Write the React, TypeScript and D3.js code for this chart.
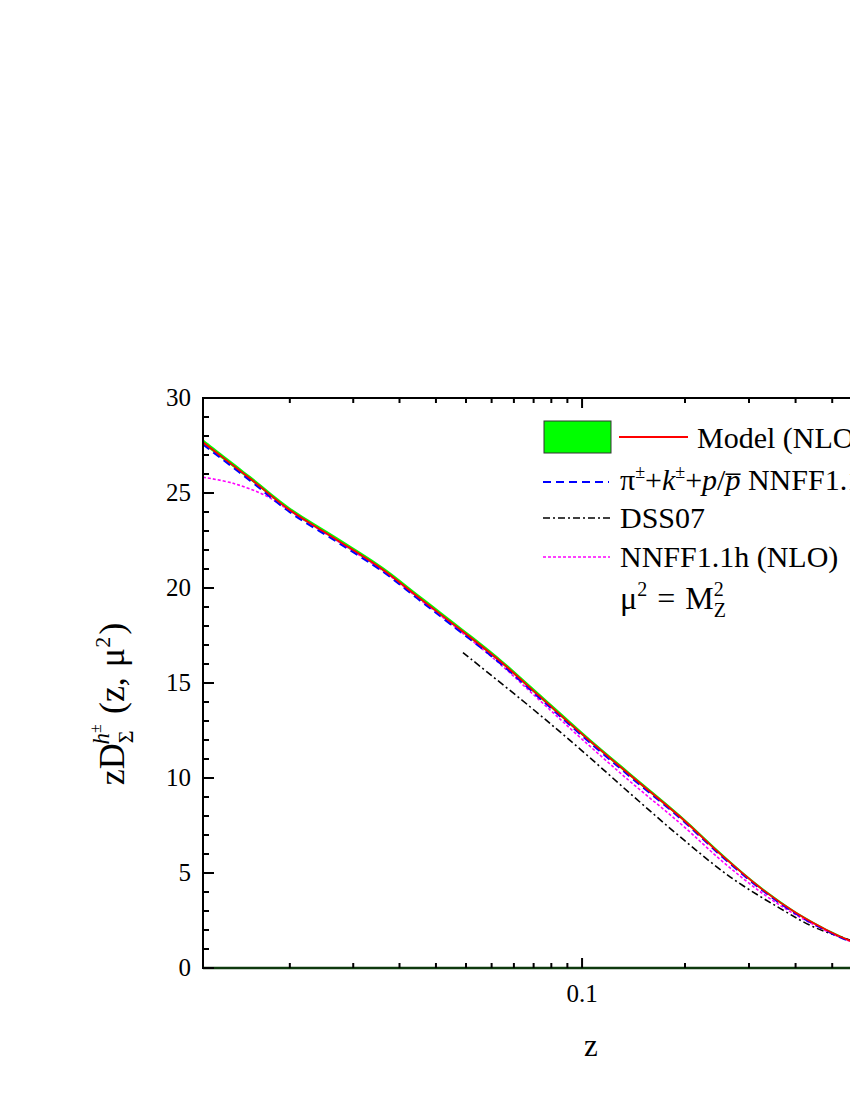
import React from "react";
import * as d3 from "d3";

const Z_SHIFT = 0.0225;
const X_DOMAIN = [-0.0089, 1.0];
const Y_DOMAIN = [0, 30];

const zModel = [-0.0089, -0.0046, 0.0, 0.0071, 0.0162, 0.0245, 0.0345, 0.0522, 0.0735, 0.0994, 0.1393, 0.1937, 0.2554, 0.3278, 0.4026, 0.4932, 0.556, 0.65];
const modelNLO = [27.67, 25.75, 24.1, 22.53, 20.95, 19.58, 18.23, 16.3, 14.28, 12.35, 10.16, 7.96, 5.86, 4.1, 2.88, 1.91, 1.44, 0.95];
const bandUpper = [27.83, 25.89, 24.24, 22.67, 21.09, 19.72, 18.37, 16.44, 14.42, 12.48, 10.28, 8.07, 5.96, 4.18, 2.95, 1.97, 1.49, 0.99];
const bandLower = [27.57, 25.67, 24.02, 22.45, 20.87, 19.5, 18.15, 16.22, 14.2, 12.27, 10.08, 7.89, 5.8, 4.04, 2.83, 1.86, 1.4, 0.92];
const nnffSum = [27.55, 25.64, 23.99, 22.42, 20.84, 19.47, 18.11, 16.19, 14.19, 12.26, 10.07, 7.89, 5.8, 4.05, 2.83, 1.87, 1.4, 0.92];

const zNnffH = [-0.0089, -0.0063, -0.0028, 0.0, 0.0071, 0.0162, 0.0245, 0.0345, 0.0522, 0.0735, 0.0994, 0.1393, 0.1937, 0.2554, 0.3278, 0.4026, 0.4932, 0.556, 0.65];
const nnffH = [25.83, 25.51, 24.83, 24.06, 22.48, 20.89, 19.52, 18.15, 16.15, 14.07, 12.08, 9.82, 7.62, 5.57, 3.9, 2.77, 1.86, 1.41, 0.93];

const zDss = [0.0389, 0.0681, 0.0994, 0.1393, 0.1937, 0.2664, 0.3635, 0.4456, 0.556, 0.65];
const dss07 = [16.6, 13.75, 11.47, 9.19, 6.91, 4.8, 3.14, 2.17, 1.47, 1.0];

const yMajorTicks = [0, 5, 10, 15, 20, 25, 30];
const yMinorTicks = [1, 2, 3, 4, 6, 7, 8, 9, 11, 12, 13, 14, 16, 17, 18, 19, 21, 22, 23, 24, 26, 27, 28, 29];
const xMajorTicks = [0.1, 1];
const xTickLabels = ["0.1", "1"];
const xMinorTicks = [0, 0.01, 0.02, 0.03, 0.04, 0.05, 0.06, 0.07, 0.08, 0.09, 0.2, 0.3, 0.4, 0.5, 0.6, 0.7, 0.8, 0.9];

const FONT = "'Liberation Serif', 'Times New Roman', serif";

const App = () => {
  const left = 203;
  const right = 948;
  const top = 398;
  const bottom = 968;

  const xLog = d3.scaleLog().domain([X_DOMAIN[0] + Z_SHIFT, X_DOMAIN[1] + Z_SHIFT]).range([left, right]);
  const x = (z: number) => xLog(z + Z_SHIFT);
  const y = d3.scaleLinear().domain(Y_DOMAIN).range([bottom, top]);

  const curve = d3.curveCatmullRom.alpha(0.5);
  const line = d3.line<[number, number]>().x((d) => x(d[0])).y((d) => y(d[1])).curve(curve);
  const area = d3
    .area<number>()
    .x((_, i) => x(zModel[i]))
    .y0((_, i) => y(bandLower[i]))
    .y1((_, i) => y(bandUpper[i]))
    .curve(curve);

  const pairs = (zs: number[], vs: number[]) => zs.map((z, i) => [z, vs[i]] as [number, number]);

  return (
    <svg width={850} height={1100} style={{ position: "absolute", left: 0, top: 0 }} fontFamily={FONT}>
      <defs>
        <clipPath id="plot">
          <rect x={left} y={top} width={right - left} height={bottom - top} />
        </clipPath>
      </defs>

      {/* curves */}
      <g clipPath="url(#plot)">
        <path d={area(zModel) || ""} fill="#00ff00" />
        <path d={line(pairs(zDss, dss07)) || ""} fill="none" stroke="#000" strokeWidth={1.6} strokeDasharray="7,3,2,3" />
        <path d={line(pairs(zNnffH, nnffH)) || ""} fill="none" stroke="#ff00ff" strokeWidth={1.6} strokeDasharray="3,2" />
        <path d={line(pairs(zModel, nnffSum)) || ""} fill="none" stroke="#0000ff" strokeWidth={2} strokeDasharray="8,5" />
        <path d={line(pairs(zModel, modelNLO)) || ""} fill="none" stroke="#ff0000" strokeWidth={1.8} />
      </g>

      {/* frame */}
      <line x1={left} x2={right} y1={top} y2={top} stroke="#000" strokeWidth={2} />
      <line x1={left} x2={left} y1={top - 1} y2={bottom + 1} stroke="#000" strokeWidth={2} />
      <line x1={left} x2={right} y1={bottom} y2={bottom} stroke="#0e3a0e" strokeWidth={2.5} />

      {/* y ticks */}
      {yMajorTicks.map((v) => (
        <g key={"ym" + v}>
          <line x1={left} x2={left + 11} y1={y(v)} y2={y(v)} stroke="#000" strokeWidth={2} />
          <text x={191} y={y(v)} dy="0.33em" textAnchor="end" fontSize={25} fontFamily={FONT}>
            {v}
          </text>
        </g>
      ))}
      {yMinorTicks.map((v) => (
        <line key={"yn" + v} x1={left} x2={left + 6} y1={y(v)} y2={y(v)} stroke="#000" strokeWidth={2} />
      ))}

      {/* x ticks top and bottom */}
      {xMinorTicks.map((v) => (
        <g key={"xn" + v}>
          <line x1={x(v)} x2={x(v)} y1={top} y2={top + 5} stroke="#000" strokeWidth={2} />
          <line x1={x(v)} x2={x(v)} y1={bottom} y2={bottom - 5} stroke="#000" strokeWidth={2} />
        </g>
      ))}
      {xMajorTicks.map((v, i) => (
        <g key={"xm" + v}>
          <line x1={x(v)} x2={x(v)} y1={top} y2={top + 10} stroke="#000" strokeWidth={2} />
          <line x1={x(v)} x2={x(v)} y1={bottom} y2={bottom - 10} stroke="#000" strokeWidth={2} />
          <text x={x(v)} y={1002} textAnchor="middle" fontSize={25} fontFamily={FONT}>
            {xTickLabels[i]}
          </text>
        </g>
      ))}

      {/* axis titles */}
      <text x={591} y={1056} textAnchor="middle" fontSize={31} fontFamily={FONT}>
        z
      </text>
      <text transform="translate(124,704) rotate(-90)" textAnchor="middle" fontSize={36} fontFamily={FONT}>
        zD
        <tspan fontSize={22} dy={9}>Σ</tspan>
        <tspan fontSize={23} fontStyle="italic" dx={-14} dy={-24}>h</tspan>
        <tspan fontSize={16} dy={-8}>±</tspan>
        <tspan fontSize={36} dx={10} dy={23}>(z,</tspan>
        <tspan fontSize={36} dx={10}>μ</tspan>
        <tspan fontSize={22} dy={-14}>2</tspan>
        <tspan fontSize={36} dx={2} dy={14}>)</tspan>
      </text>

      {/* legend */}
      <rect x={544} y={421} width={67} height={32} fill="#00ff00" stroke="#333" strokeWidth={1} />
      <line x1={619} x2={688} y1={437} y2={437} stroke="#ff0000" strokeWidth={1.8} />
      <text x={697} y={448} fontSize={30} fontFamily={FONT}>Model (NLO)</text>

      <line x1={543} x2={609} y1={482} y2={482} stroke="#0000ff" strokeWidth={2} strokeDasharray="8,5" />
      <text x={620} y={490} fontSize={30} fontFamily={FONT}>
        π<tspan fontSize={18} dy={-12}>±</tspan>
        <tspan dy={12}>+</tspan>
        <tspan fontStyle="italic">k</tspan>
        <tspan fontSize={18} dy={-12}>±</tspan>
        <tspan dy={12}>+</tspan>
        <tspan fontStyle="italic">p</tspan>/
        <tspan fontStyle="italic">p&#x0305;</tspan> NNFF1.1 (NLO)
      </text>

      <line x1={543} x2={610} y1={518} y2={518} stroke="#000" strokeWidth={1.6} strokeDasharray="7,3,2,3" />
      <text x={620} y={528} fontSize={30} fontFamily={FONT}>DSS07</text>

      <line x1={543} x2={610} y1={557} y2={557} stroke="#ff00ff" strokeWidth={1.6} strokeDasharray="3,2" />
      <text x={620} y={567} fontSize={30} fontFamily={FONT}>NNFF1.1h (NLO)</text>

      <text x={620} y={609} fontSize={32} fontFamily={FONT}>
        μ<tspan fontSize={20} dy={-13}>2</tspan>
        <tspan dx={10} dy={13}>=</tspan>
        <tspan dx={10}>M</tspan>
        <tspan fontSize={20} dy={-13}>2</tspan>
        <tspan fontSize={20} dx={-10} dy={21}>Z</tspan>
      </text>
    </svg>
  );
};

export default App;
